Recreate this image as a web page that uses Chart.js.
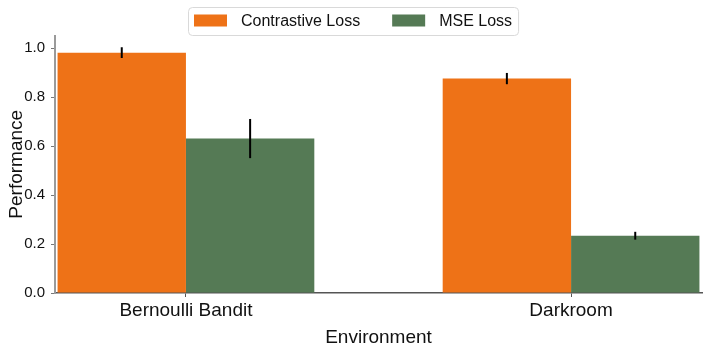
<!DOCTYPE html>
<html><head><meta charset="utf-8">
<script src="https://cdn.jsdelivr.net/npm/chart.js@4.4.1/dist/chart.umd.min.js"></script>
<style>html,body{margin:0;padding:0;background:#fff;} #wrap{width:706px;height:353px;}</style>
</head><body><div id="wrap"><canvas id="c" width="706" height="353"></canvas></div>
<script>
const categories = ['Bernoulli Bandit', 'Darkroom'];
const seriesNames = ['Contrastive Loss', 'MSE Loss'];
const contrastive = [0.982, 0.876];
const contrastiveErr = [0.022, 0.023];
const mse = [0.631, 0.234];
const mseErr = [0.080, 0.016];
const yTicks = [0, 0.2, 0.4, 0.6, 0.8, 1.0];
const colors = ['#EE7217', '#557A55'];
const FONT = "'Liberation Sans', Arial, Helvetica, sans-serif";

const errorBars = {
  id: 'errorBars',
  afterDatasetsDraw(chart) {
    const ctx = chart.ctx, y = chart.scales.y;
    ctx.save(); ctx.strokeStyle = '#000'; ctx.lineWidth = 2;
    chart.data.datasets.forEach((ds, i) => {
      const meta = chart.getDatasetMeta(i);
      meta.data.forEach((bar, j) => {
        const v = ds.data[j].y, e = ds.errors[j];
        ctx.beginPath();
        ctx.moveTo(bar.x, y.getPixelForValue(v - e));
        ctx.lineTo(bar.x, y.getPixelForValue(v + e));
        ctx.stroke();
      });
    });
    ctx.restore();
  }
};

const boxLegend = {
  id: 'boxLegend',
  afterDraw(chart) {
    const ctx = chart.ctx;
    ctx.save();
    ctx.font = '16px ' + FONT;
    const sw = 33, sh = 12, gap = 14, itemGap = 32, padL = 6, padR = 6, top = 7, bottom = 35;
    const dss = chart.data.datasets;
    const widths = dss.map(ds => sw + gap + ctx.measureText(ds.label).width);
    const inner = widths.reduce((a, b) => a + b, 0) + itemGap * (widths.length - 1);
    const boxW = inner + padL + padR;
    const left = Math.round(chart.width / 2 - boxW / 2);
    ctx.beginPath();
    ctx.roundRect(left + 0.5, top + 0.5, boxW, bottom - top, 4);
    ctx.fillStyle = 'rgba(255,255,255,0.8)';
    ctx.fill();
    ctx.strokeStyle = '#d9d9d9';
    ctx.lineWidth = 1;
    ctx.stroke();
    const cy = 20.5;
    let x = left + padL;
    dss.forEach((ds, i) => {
      ctx.fillStyle = ds.backgroundColor;
      ctx.fillRect(x, cy - sh / 2, sw, sh);
      ctx.fillStyle = '#111';
      ctx.textBaseline = 'middle';
      ctx.textAlign = 'left';
      ctx.fillText(ds.label, x + sw + gap, cy + 1);
      x += widths[i] + itemGap;
    });
    ctx.restore();
  }
};

new Chart(document.getElementById('c'), {
  type: 'bar',
  data: {
    datasets: [
      { label: seriesNames[0], data: categories.map((c, i) => ({ x: i, y: contrastive[i] })), errors: contrastiveErr, backgroundColor: colors[0], borderWidth: 0 },
      { label: seriesNames[1], data: categories.map((c, i) => ({ x: i, y: mse[i] })), errors: mseErr, backgroundColor: colors[1], borderWidth: 0 }
    ]
  },
  options: {
    responsive: false, animation: false, devicePixelRatio: 1,
    layout: { padding: { top: 35.5, right: 4, left: 0, bottom: 0 } },
    datasets: { bar: { categoryPercentage: 2 / 3, barPercentage: 1 } },
    plugins: { legend: { display: false }, tooltip: { enabled: false } },
    scales: {
      x: {
        type: 'linear', min: -0.34, max: 1.34, offset: false,
        grid: { display: true, drawOnChartArea: false, drawTicks: true, tickLength: 4, color: '#555', offset: false },
        border: { display: true, color: '#555', width: 1.5 },
        afterBuildTicks(s) { s.ticks = categories.map((c, i) => ({ value: i })); },
        ticks: { callback: (v) => categories[v], font: { size: 19, family: FONT }, color: '#111', padding: 2, maxRotation: 0, autoSkip: false },
        title: { display: true, text: 'Environment', font: { size: 19, family: FONT }, color: '#111', padding: { top: 0, bottom: 4 } },
        afterFit(s) { s.height = 60; }
      },
      y: {
        type: 'linear', min: 0, max: 1.052,
        grid: { display: true, drawOnChartArea: false, drawTicks: true, tickLength: 4, color: '#777' },
        border: { display: true, color: '#9a9a9a', width: 2 },
        afterBuildTicks(s) { s.ticks = yTicks.map(v => ({ value: v })); },
        ticks: { callback: (v) => Number(v).toFixed(1), font: { size: 15, family: FONT }, color: '#111', padding: 6 },
        title: { display: true, text: 'Performance', font: { size: 19, family: FONT }, color: '#111', padding: { top: 5, bottom: 0 } },
        afterFit(s) { s.width = 55; }
      }
    }
  },
  plugins: [errorBars, boxLegend]
});
</script>
</body></html>
